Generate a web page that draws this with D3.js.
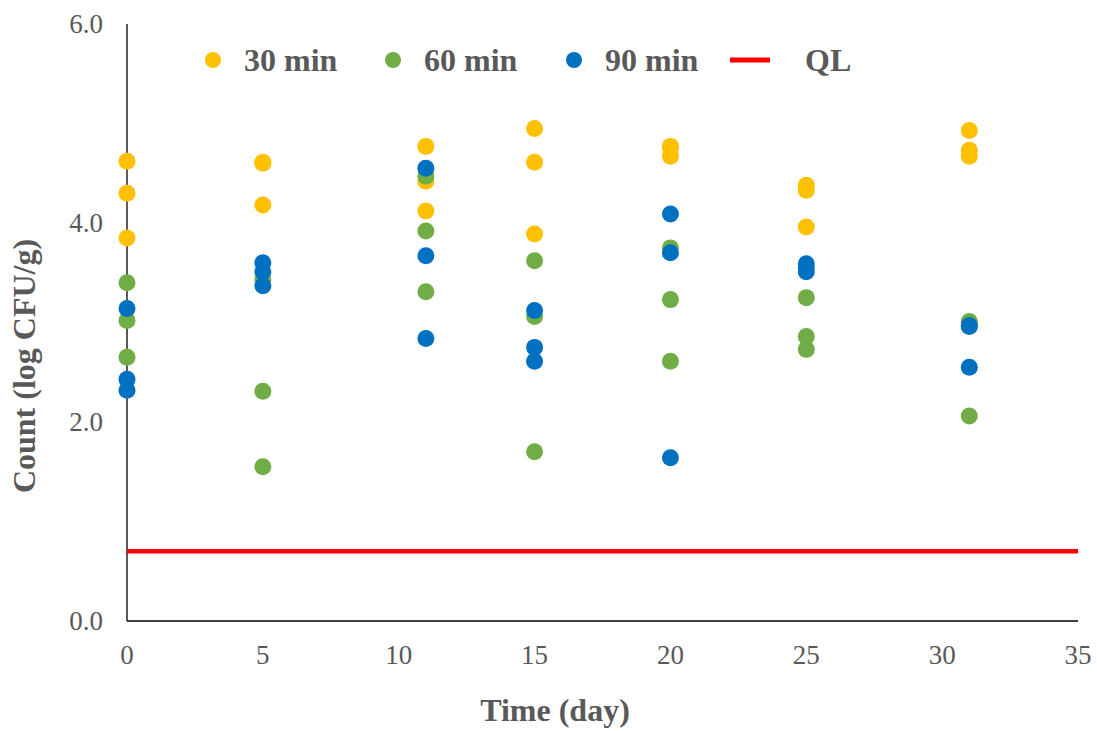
<!DOCTYPE html>
<html>
<head>
<meta charset="utf-8">
<script src="https://cdn.jsdelivr.net/npm/d3@7"></script>
<style>
  body { margin: 0; background: #fff; }
  text { font-family: "Liberation Serif", "Times New Roman", serif; }
</style>
</head>
<body>
<div id="chart"></div>
<script>
const days = [0, 5, 11, 15, 20, 25, 31];
// three replicates per day
const min30 = [
  [4.62, 4.30, 3.85], [4.61, 4.60, 4.18], [4.77, 4.42, 4.12], [4.95, 4.61, 3.89],
  [4.77, 4.67, 4.76], [4.38, 4.33, 3.96], [4.93, 4.73, 4.67]
];
const min60 = [
  [3.40, 3.02, 2.65], [3.43, 2.31, 1.55], [4.47, 3.92, 3.31], [3.62, 3.06, 1.70],
  [3.75, 3.23, 2.61], [3.25, 2.86, 2.73], [3.01, 2.06, 3.00]
];
const min90 = [
  [3.14, 2.43, 2.32], [3.60, 3.51, 3.37], [4.55, 3.67, 2.84], [3.12, 2.75, 2.61],
  [4.09, 3.70, 1.64], [3.59, 3.51, 3.55], [2.96, 2.55, 2.97]
];
const qlValue = 0.70;
const yTicks = [0, 2, 4, 6];
const xTicks = [0, 5, 10, 15, 20, 25, 30, 35];

const series = [
  { name: "30 min", color: "#FFC000", values: min30 },
  { name: "60 min", color: "#70AD47", values: min60 },
  { name: "90 min", color: "#0070C0", values: min90 }
];

const W = 1097, H = 731;
const plot = { left: 127, right: 1078, top: 24, bottom: 621 };
const svg = d3.select("#chart").append("svg").attr("width", W).attr("height", H);

const x = d3.scaleLinear().domain([0, 35]).range([plot.left, plot.right]);
const y = d3.scaleLinear().domain([0, 6]).range([plot.bottom, plot.top]);

// axis lines
svg.append("line")
  .attr("x1", plot.left).attr("x2", plot.left).attr("y1", y(6)).attr("y2", y(0))
  .attr("stroke", "#000").attr("stroke-width", 1.3);
svg.append("line")
  .attr("x1", x(0)).attr("x2", x(35)).attr("y1", y(0)).attr("y2", y(0))
  .attr("stroke", "#000").attr("stroke-width", 1.3);

svg.selectAll(".ytick").data(yTicks).join("text")
  .attr("x", plot.left - 24).attr("y", d => y(d) + 9)
  .attr("text-anchor", "end").attr("font-size", 27).attr("fill", "#595959")
  .text(d => d.toFixed(1));

svg.selectAll(".xtick").data(xTicks).join("text")
  .attr("x", d => x(d)).attr("y", plot.bottom + 43)
  .attr("text-anchor", "middle").attr("font-size", 27).attr("fill", "#595959")
  .text(d => d);

// QL line
svg.append("line")
  .attr("x1", x(0)).attr("x2", x(35)).attr("y1", y(qlValue)).attr("y2", y(qlValue))
  .attr("stroke", "#FF0000").attr("stroke-width", 4.5);

// points
series.forEach(s => {
  const pts = [];
  days.forEach((d, i) => s.values[i].forEach(v => pts.push([d, v])));
  svg.append("g").selectAll("circle").data(pts).join("circle")
    .attr("cx", d => x(d[0])).attr("cy", d => y(d[1]))
    .attr("r", 8.5).attr("fill", s.color);
});

// axis titles
svg.append("text")
  .attr("x", 555).attr("y", 721)
  .attr("text-anchor", "middle").attr("font-size", 32).attr("font-weight", "bold")
  .attr("fill", "#595959").text("Time (day)");

svg.append("text")
  .attr("transform", "translate(35,366) rotate(-90)")
  .attr("text-anchor", "middle").attr("font-size", 32).attr("font-weight", "bold")
  .attr("fill", "#595959").text("Count (log CFU/g)");

// legend
const legendX = [213, 393, 574];
series.forEach((s, i) => {
  svg.append("circle").attr("cx", legendX[i]).attr("cy", 60).attr("r", 8).attr("fill", s.color);
  svg.append("text").attr("x", legendX[i] + 31).attr("y", 71)
    .attr("font-size", 32).attr("font-weight", "bold").attr("fill", "#595959").text(s.name);
});
svg.append("line").attr("x1", 730).attr("x2", 770).attr("y1", 60).attr("y2", 60)
  .attr("stroke", "#FF0000").attr("stroke-width", 5);
svg.append("text").attr("x", 805).attr("y", 71)
  .attr("font-size", 32).attr("font-weight", "bold").attr("fill", "#595959").text("QL");
</script>
</body>
</html>
